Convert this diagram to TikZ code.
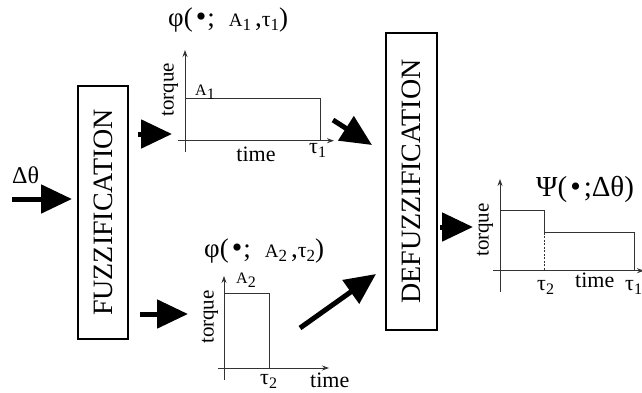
\documentclass[tikz,border=0pt]{standalone}
\usepackage{fontspec}
\setmainfont{Liberation Serif}
\usetikzlibrary{arrows.meta}
\newcommand\lsub[1]{\raisebox{-0.45ex}{\fontsize{16}{16}\selectfont #1}}
\newcommand\tsub[1]{\raisebox{-0.4ex}{\fontsize{17}{17}\selectfont #1}}
\newcommand\smA{{\fontsize{16}{16}\selectfont A}}
\newcommand\tA{{\fontsize{19}{19}\selectfont A}}
\newcommand\ttau{{\fontsize{22}{22}\selectfont τ}}
\newcommand\bigdot{{\fontsize{30}{30}\selectfont •}}
\begin{document}
\begin{tikzpicture}[x=1pt,y=-1pt,
  blockbox/.style={draw, line width=1.1pt, rotate=90, inner sep=0pt,
    font=\fontsize{28}{28}\selectfont},
  bigarrow/.style={line width=5pt, -{Triangle[length=31pt,width=28pt]}},
  axisline/.style={line width=0.9pt, draw=black!80, -{Stealth[length=7pt,width=5pt]}},
  plotline/.style={line width=0.9pt, draw=black!80},
  lbl/.style={inner sep=0pt, font=\fontsize{22}{22}\selectfont},
  ylbl/.style={inner sep=0pt, rotate=90, font=\fontsize{21}{21}\selectfont},
  ttl/.style={inner sep=0pt, font=\fontsize{27}{27}\selectfont}]
\useasboundingbox (0,0) rectangle (642,392);

% blocks
\node[blockbox, minimum width=253pt, minimum height=50pt] (fuzz) at (103,212.5) {FUZZIFICATION};
\node[blockbox, minimum width=297pt, minimum height=51pt] (defuzz) at (411.5,181.5) {DEFUZZIFICATION};

% graph 1
\coordinate (g1o) at (185,140.7);
\draw[axisline] (185,152) -- (185,50);
\draw[axisline] (178,140.7) -- (334,140.7);
\draw[plotline] (185,98.7) -- (320,98.7) -- (320,140.7);
\node[ylbl] (tq1) at (170,90) {torque};
\node[lbl, anchor=base west] (a1) at (195,95) {\smA\lsub{1}};
\node[lbl, anchor=base] (tm1) at (256,161) {time};
\node[lbl, anchor=base west] (t1) at (309,153) {τ\lsub{1}};
\node[ttl, anchor=base west] (ttl1) at (168,26) {φ(\hspace{3pt}\bigdot\hspace{1pt};\hspace{14pt}\tA\tsub{1}\hspace{4pt},\ttau\tsub{1})};

% graph 2
\coordinate (g2o) at (224,368);
\draw[axisline] (224,380) -- (224,276);
\draw[axisline] (218,368) -- (329,368);
\draw[plotline] (224,293.7) -- (269,293.7) -- (269,368);
\node[ylbl] (tq2) at (210,317) {torque};
\node[lbl, anchor=base west] (a2) at (236,283) {\smA\lsub{2}};
\node[lbl, anchor=base west] (t2) at (260,384) {τ\lsub{2}};
\node[lbl, anchor=base west] (tm2) at (310,387) {time};
\node[ttl, anchor=base west] (ttl2) at (204,257) {φ(\hspace{3pt}\bigdot\hspace{1pt};\hspace{14pt}\tA\tsub{2}\hspace{4pt},\ttau\tsub{2})};

% graph 3
\coordinate (g3o) at (500,270.7);
\draw[axisline] (500,292) -- (500,179);
\draw[axisline] (493,270.7) -- (644,270.7);
\draw[plotline] (500,210) -- (544,210) -- (544,232.7) -- (634,232.7) -- (634,270.7);
\draw[plotline, dashed, dash pattern=on 2pt off 1.5pt] (544,232.7) -- (544,270.7);
\node[ylbl] (tq3) at (485,230) {torque};
\node[lbl, anchor=base west] (t32) at (537,290) {τ\lsub{2}};
\node[lbl, anchor=base west] (tm3) at (575,287) {time};
\node[lbl, anchor=base west] (t31) at (625,290) {τ\lsub{1}};
\node[ttl, anchor=base west, font=\fontsize{29}{29}\selectfont] (ttl3) at (536,196) {Ψ(\hspace{3pt}\bigdot\hspace{3pt};Δθ)};

% big arrows
\coordinate (in0) at (12,199);
\coordinate (in1) at (72,199);
\node[lbl, anchor=base west, font=\fontsize{24}{24}\selectfont] (dth) at (12,183) {Δθ};
\draw[bigarrow] (in0) -- (in1);
\coordinate (f1s) at (138,134);  \coordinate (f1e) at (172,134);
\draw[bigarrow] (f1s) -- (f1e);
\coordinate (f2s) at (140,314);  \coordinate (f2e) at (188,314);
\draw[bigarrow] (f2s) -- (f2e);
\coordinate (d1s) at (333,120);  \coordinate (d1e) at (372,145);
\draw[bigarrow] (d1s) -- (d1e);
\coordinate (d2s) at (300,328);  \coordinate (d2e) at (376,274);
\draw[bigarrow] (d2s) -- (d2e);
\coordinate (o1s) at (440,227);  \coordinate (o1e) at (473,227);
\draw[bigarrow] (o1s) -- (o1e);
\end{tikzpicture}
\end{document}
